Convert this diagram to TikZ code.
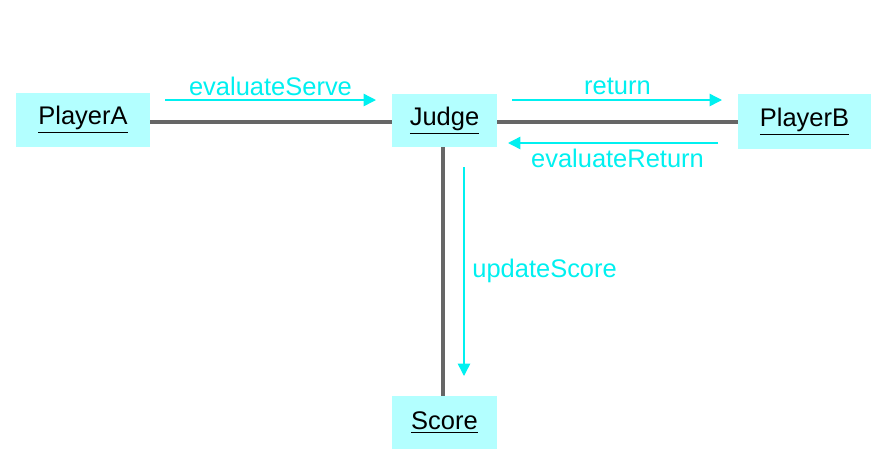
\documentclass[tikz,border=0pt]{standalone}
\usepackage{fontspec}
\setmainfont{Liberation Sans}
\usetikzlibrary{arrows.meta, positioning}

\definecolor{objfill}{HTML}{B3FFFF}
\definecolor{msgcyan}{HTML}{00F0F0}
\definecolor{linkgray}{HTML}{666666}

\tikzset{
  obj/.style={fill=objfill, inner sep=0pt, text=black, font=\fontsize{14.5}{17}\selectfont},
  link/.style={draw=linkgray, line width=2.2pt},
  msg/.style={draw=msgcyan, line width=0.8pt, -{Triangle[length=7pt,width=7pt]}},
  msglabel/.style={text=msgcyan, inner sep=0pt, font=\fontsize{14.5}{17}\selectfont}
}

\begin{document}
\begin{tikzpicture}[x=0.02cm, y=-0.02cm]

\useasboundingbox (0,0) rectangle (883,454);

% Objects
\node[obj, minimum width=2.68cm, minimum height=1.08cm] (playerA) at (83,120) {\underline{PlayerA}};
\node[obj, minimum width=2.1cm, minimum height=1.06cm] (judge) at (444.5,120.5) {\underline{Judge}};
\node[obj, minimum width=2.66cm, minimum height=1.1cm] (playerB) at (804.5,121.5) {\underline{PlayerB}};
\node[obj, minimum width=2.1cm, minimum height=1.06cm] (score) at (444.5,422.5) {\underline{Score}};

% Links
\draw[link] (playerA.east |- 0,122) -- (judge.west |- 0,122);
\draw[link] (judge.east |- 0,122) -- (playerB.west |- 0,122);
\draw[link] (443,147) -- (443,396);

% Message ends
\coordinate (serveS) at (165,100);
\coordinate (serveE) at (376,100);
\coordinate (retS) at (512,100);
\coordinate (retE) at (722,100);
\coordinate (evalRetS) at (718,143);
\coordinate (evalRetE) at (508,143);
\coordinate (updS) at (464,167);
\coordinate (updE) at (464,376);

% Messages
\draw[msg] (serveS) -- (serveE);
\node[msglabel] (serveLbl) at (270.5,86) {evaluateServe};

\draw[msg] (retS) -- (retE);
\node[msglabel] (retLbl) at (617.5,86) {return};

\draw[msg] (evalRetS) -- (evalRetE);
\node[msglabel] (evalRetLbl) at (617.5,158.5) {evaluateReturn};

\draw[msg] (updS) -- (updE);
\node[msglabel, anchor=west] (updLbl) at (472,271) {updateScore};

\end{tikzpicture}
\end{document}
